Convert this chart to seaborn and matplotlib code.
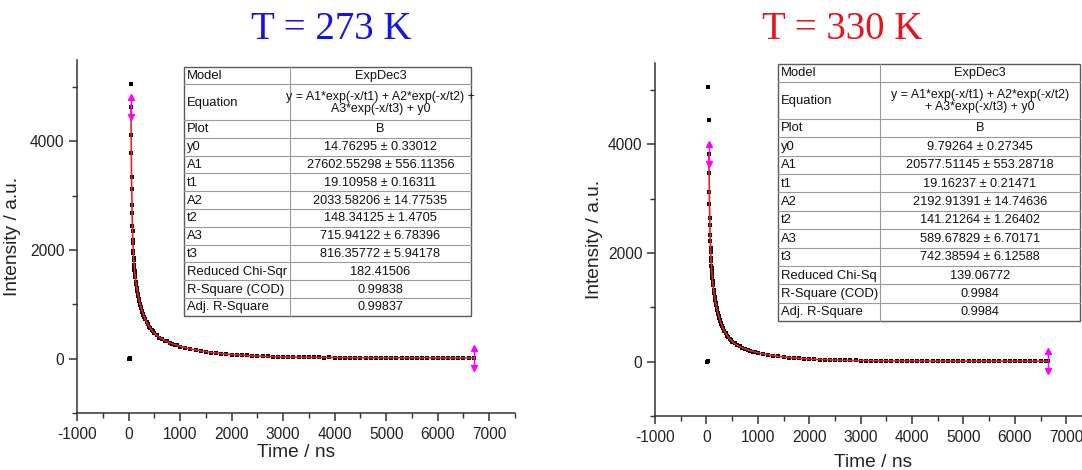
import numpy as np
import pandas as pd
import matplotlib
matplotlib.use("Agg")
import matplotlib.pyplot as plt
import seaborn as sns
from matplotlib.patches import Rectangle
from matplotlib.ticker import MultipleLocator
from matplotlib.transforms import offset_copy

# ---------------------------------------------------------------- data
# Decay trace at 273 K (time in ns, intensity in a.u.)
time_273 = [8, 20, 32, 40, 46, 50, 54, 58, 62, 66, 70, 74, 78, 82, 86, 90, 94, 98,
            102, 106, 110, 114, 118, 124, 130, 140, 150, 160, 170, 180, 190, 200,
            210, 220, 230, 240, 250, 260, 270, 280, 290, 300, 325, 350, 375, 400,
            425, 450, 475, 500, 550, 600, 650, 700, 750, 800, 850, 900, 950, 1000,
            1100, 1200, 1300, 1400, 1500, 1600, 1700, 1800, 1900, 2000, 2100, 2200,
            2300, 2400, 2500, 2600, 2700, 2800, 2900, 3000, 3100, 3200, 3300, 3400,
            3500, 3600, 3700, 3800, 3900, 4000, 4100, 4200, 4300, 4400, 4500, 4600,
            4700, 4800, 4900, 5000, 5100, 5200, 5300, 5400, 5500, 5600, 5700, 5800,
            5900, 6000, 6100, 6200, 6300, 6400, 6500, 6600, 6700]
inten_273 = [3, -4, 5, 5064, 4630, 4120, 3790, 3350, 3120, 2830, 2680, 2450, 2360,
             2190, 2130, 1990, 1950, 1850, 1820, 1730, 1710, 1640, 1620, 1550, 1505,
             1420, 1375, 1295, 1250, 1190, 1155, 1095, 1070, 1015, 995, 945, 925, 885,
             865, 825, 810, 775, 728, 668, 634, 586, 560, 522, 502, 469, 434, 390, 367,
             333, 318, 289, 279, 255, 244, 224,
             204, 177, 164, 141, 131, 113, 106, 92, 87, 75, 72, 61, 60, 51, 50, 43, 43,
             36, 38, 31, 32, 27, 29, 24, 27, 22, 25, 20, 23, 18, 21, 17, 20, 16, 19, 15,
             19, 14, 18, 15, 17, 14, 18, 13, 17, 14, 16, 13, 17, 14, 16, 13, 17, 14, 16,
             13, 15]

# Decay trace at 330 K
time_330 = [8, 20, 32, 40, 44, 48, 52, 56, 60, 64, 68, 72, 76, 80, 84, 88, 92, 96,
            100, 104, 108, 112, 116, 120, 130, 140, 150, 160, 170, 180, 190, 200,
            210, 220, 230, 240, 250, 260, 270, 280, 290, 300, 325, 350, 375, 400,
            425, 450, 475, 500, 550, 600, 650, 700, 750, 800, 850, 900, 950, 1000,
            1100, 1200, 1300, 1400, 1500, 1600, 1700, 1800, 1900, 2000, 2100, 2200,
            2300, 2400, 2500, 2600, 2700, 2800, 2900, 3000, 3100, 3200, 3300, 3400,
            3500, 3600, 3700, 3800, 3900, 4000, 4100, 4200, 4300, 4400, 4500, 4600,
            4700, 4800, 4900, 5000, 5100, 5200, 5300, 5400, 5500, 5600, 5700, 5800,
            5900, 6000, 6100, 6200, 6300, 6400, 6500, 6600, 6650]
inten_330 = [2, -3, 4, 5056, 4443, 3825, 3470, 3120, 2900, 2650, 2510, 2330, 2225,
             2085, 2015, 1905, 1855, 1765, 1725, 1655, 1622, 1560, 1534, 1480, 1410,
             1318, 1265, 1190, 1145, 1080, 1044, 986, 955, 905, 878, 833, 809, 768,
             749, 711, 694, 662, 613, 557, 524, 479, 455, 419, 401, 371, 339, 301, 281,
             252, 239, 216, 206, 186, 180, 162,
             147, 125, 114, 97, 90, 76, 72, 60, 58, 48, 47, 38, 39, 31, 32, 26, 28, 22,
             24, 18, 21, 16, 19, 14, 18, 13, 16, 12, 15, 11, 14, 10, 13, 10, 13, 9, 12,
             9, 12, 9, 11, 9, 12, 8, 11, 9, 11, 8, 11, 9, 11, 8, 11, 9, 11, 9, 10]

# Fit range (first and last time of the fitted data)
fit_range_273 = (46, 6700)
fit_range_330 = (48, 6650)

# ExpDec3 fit results
param_names = ["y0", "A1", "t1", "A2", "t2", "A3", "t3"]
fit_val_273 = [14.76295, 27602.55298, 19.10958, 2033.58206, 148.34125, 715.94122, 816.35772]
fit_err_273 = [0.33012, 556.11356, 0.16311, 14.77535, 1.4705, 6.78396, 5.94178]
stats_273 = ["182.41506", "0.99838", "0.99837"]

fit_val_330 = [9.79264, 20577.51145, 19.16237, 2192.91391, 141.21264, 589.67829, 742.38594]
fit_err_330 = [0.27345, 553.28718, 0.21471, 14.74636, 1.26402, 6.70171, 6.12588]
stats_330 = ["139.06772", "0.9984", "0.9984"]

stat_names_273 = ["Reduced Chi-Sqr", "R-Square (COD)", "Adj. R-Square"]
stat_names_330 = ["Reduced Chi-Sq", "R-Square (COD)", "Adj. R-Square"]
equation_273 = "y = A1*exp(-x/t1) + A2*exp(-x/t2) +\nA3*exp(-x/t3) + y0"
equation_330 = "y = A1*exp(-x/t1) + A2*exp(-x/t2)\n+ A3*exp(-x/t3) + y0"

x_ticks = [-1000, 0, 1000, 2000, 3000, 4000, 5000, 6000, 7000]
y_ticks = [0, 2000, 4000]

# ---------------------------------------------------------------- style
sns.set_theme(style="ticks")
plt.rcParams["font.family"] = ["Liberation Sans", "DejaVu Sans"]
plt.rcParams["axes.unicode_minus"] = False
plt.rcParams["axes.edgecolor"] = "#333333"
plt.rcParams["xtick.color"] = "#333333"
plt.rcParams["ytick.color"] = "#333333"

W, H = 1082, 470
fig = plt.figure(figsize=(W / 100, H / 100), dpi=100)
fig.patch.set_facecolor("white")


def axes_px(x0, y_top, x1, y_bot):
    return fig.add_axes([x0 / W, 1 - y_bot / H, (x1 - x0) / W, (y_bot - y_top) / H])


def expdec3(x, p):
    y0, a1, t1, a2, t2, a3, t3 = p
    return a1 * np.exp(-x / t1) + a2 * np.exp(-x / t2) + a3 * np.exp(-x / t3) + y0


def range_marker(ax, tx, ty):
    """Magenta double arrow marking an end of the fit range."""
    col = "#ff00ff"
    ax.plot([tx], [ty], marker="|", ms=15, mew=1.0, color=col, zorder=6, clip_on=False)
    up = offset_copy(ax.transData, fig=fig, x=0, y=10, units="dots")
    dn = offset_copy(ax.transData, fig=fig, x=0, y=-10, units="dots")
    ax.plot([tx], [ty], marker="^", ms=4.8, color=col, mec=col, transform=up, zorder=6, clip_on=False)
    ax.plot([tx], [ty], marker="v", ms=4.8, color=col, mec=col, transform=dn, zorder=6, clip_on=False)


def draw_panel(ax, t, y, fit_range, params, xlab_y):
    df = pd.DataFrame({"Time": t, "Intensity": y})
    sns.scatterplot(data=df, x="Time", y="Intensity", ax=ax, marker="s", s=10,
                    color="black", linewidth=0, zorder=3, legend=False)
    xf = np.linspace(fit_range[0], fit_range[1], 3000)
    yf = expdec3(xf, params)
    sns.lineplot(x=xf, y=yf, ax=ax, color="#e8202a", lw=1.2, zorder=4,
                 estimator=None, sort=False, legend=False)
    for tx in fit_range:
        ty = df.loc[df["Time"] == tx, "Intensity"].iloc[0]
        range_marker(ax, tx, ty)

    ax.set_xlim(-1000, 7500)
    ax.set_ylim(-1000, 5500)
    ax.set_xticks(x_ticks)
    ax.set_yticks(y_ticks)
    ax.xaxis.set_minor_locator(MultipleLocator(500))
    ax.yaxis.set_minor_locator(MultipleLocator(1000))
    ax.tick_params(axis="both", which="major", direction="out", length=6, width=1.1,
                   labelsize=11.2, labelcolor="#222222")
    ax.tick_params(axis="x", which="major", pad=4)
    ax.tick_params(axis="y", which="major", pad=3)
    ax.tick_params(axis="both", which="minor", direction="out", length=3.5, width=1.0)
    for s in ("top", "right"):
        ax.spines[s].set_visible(False)
    for s in ("left", "bottom"):
        ax.spines[s].set_linewidth(1.1)
    ax.set_xlabel("Time / ns", fontsize=13.8, color="#222222")
    ax.set_ylabel("Intensity / a.u.", fontsize=13.8, color="#222222")
    ax.xaxis.set_label_coords(0.5, xlab_y)
    ax.set_facecolor("white")


ax1 = axes_px(77, 60, 515, 413)
draw_panel(ax1, time_273, inten_273, fit_range_273, fit_val_273, -0.088)
ax1.yaxis.set_label_coords(-0.128, 0.5)

ax2 = axes_px(655, 63, 1092, 416)
draw_panel(ax2, time_330, inten_330, fit_range_330, fit_val_330, -0.108)
ax2.yaxis.set_label_coords(-0.12, 0.5)

# ---------------------------------------------------------------- fit tables
tab = fig.add_axes([0, 0, 1, 1])
tab.set_xlim(0, W)
tab.set_ylim(H, 0)
tab.axis("off")
tab.set_zorder(5)
tab.patch.set_alpha(0)


def draw_table(x0, y0, c1, c2, rh, equation, vals, errs, stat_names, stats):
    labels = ["Model", "Equation", "Plot"] + param_names + stat_names
    values = ["ExpDec3", equation, "B"] + [f"{v} \u00b1 {e}" for v, e in zip(vals, errs)] + stats
    heights = [2 if lab == "Equation" else 1 for lab in labels]
    total = sum(heights) * rh
    tab.add_patch(Rectangle((x0, y0), c1 + c2, total, fc="white", ec="#5a5a5a", lw=1.0, zorder=1))
    y = y0
    for i, (lab, val, h) in enumerate(zip(labels, values, heights)):
        hh = h * rh
        tab.text(x0 + 3, y + hh / 2 + 0.5, lab, ha="left", va="center", fontsize=9.4,
                 color="#111111", zorder=3)
        fs = 8.9 if lab == "Equation" else 9.2
        tab.text(x0 + c1 + c2 / 2, y + hh / 2 + 0.5, val, ha="center", va="center",
                 fontsize=fs, linespacing=1.0, color="#111111", zorder=3)
        y += hh
        if i < len(labels) - 1:
            tab.plot([x0, x0 + c1 + c2], [y, y], color="#9a9a9a", lw=0.8, zorder=2)
    tab.plot([x0 + c1, x0 + c1], [y0, y0 + total], color="#9a9a9a", lw=0.8, zorder=2)


draw_table(184, 66.5, 106, 181, 17.8, equation_273, fit_val_273, fit_err_273,
           stat_names_273, stats_273)
draw_table(778, 63.5, 102, 200, 18.4, equation_330, fit_val_330, fit_err_330,
           stat_names_330, stats_330)

# ---------------------------------------------------------------- titles
fig.text(331 / W, 1 - 39 / H, "T = 273 K", ha="center", va="baseline", fontsize=28,
         color="#1414e6", family=["Liberation Serif", "DejaVu Serif"])
fig.text(842 / W, 1 - 39 / H, "T = 330 K", ha="center", va="baseline", fontsize=28,
         color="#e6141c", family=["Liberation Serif", "DejaVu Serif"])

fig.savefig("out.png", dpi=100, facecolor="white")
